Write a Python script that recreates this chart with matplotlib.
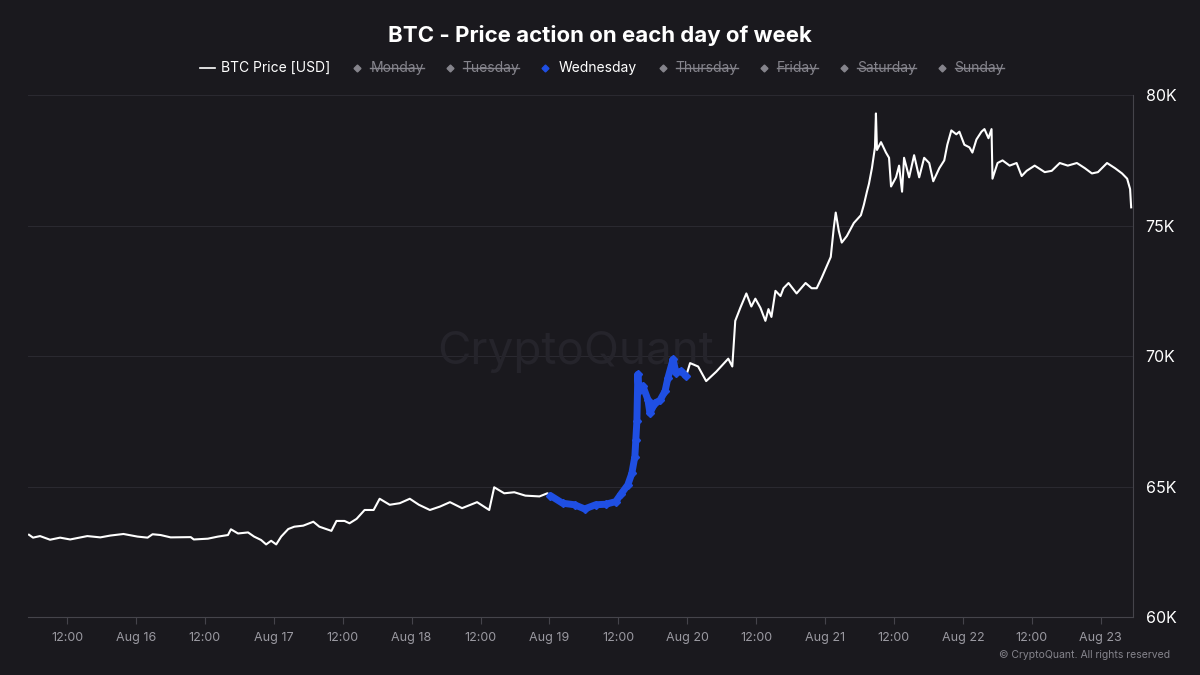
import matplotlib
import matplotlib.pyplot as plt
import matplotlib.dates as mdates
from matplotlib.lines import Line2D
import pandas as pd

plt.rcParams['font.family'] = ['Inter', 'DejaVu Sans']

# BTC price (USD)
times = [
    "2026-08-15 05:22", "2026-08-15 06:04", "2026-08-15 07:17", "2026-08-15 09:02", "2026-08-15 10:47",
    "2026-08-15 12:32", "2026-08-15 15:31", "2026-08-15 17:47", "2026-08-15 19:32", "2026-08-15 21:49",
    "2026-08-16 00:16", "2026-08-16 02:01", "2026-08-16 02:53", "2026-08-16 04:17", "2026-08-16 06:02",
    "2026-08-16 09:32", "2026-08-16 10:04", "2026-08-16 12:31", "2026-08-16 14:16", "2026-08-16 16:01",
    "2026-08-16 16:32", "2026-08-16 17:46", "2026-08-16 19:31", "2026-08-16 20:34", "2026-08-16 21:47",
    "2026-08-16 22:40", "2026-08-16 23:32", "2026-08-17 00:25", "2026-08-17 01:17", "2026-08-17 02:31",
    "2026-08-17 03:34", "2026-08-17 05:08", "2026-08-17 06:53", "2026-08-17 07:56", "2026-08-17 10:02",
    "2026-08-17 10:55", "2026-08-17 12:19", "2026-08-17 13:11", "2026-08-17 14:25", "2026-08-17 15:49",
    "2026-08-17 17:23", "2026-08-17 18:26", "2026-08-17 20:11", "2026-08-17 21:56", "2026-08-17 23:41",
    "2026-08-18 01:16", "2026-08-18 03:11", "2026-08-18 04:56", "2026-08-18 06:41", "2026-08-18 08:47",
    "2026-08-18 11:24", "2026-08-18 13:31", "2026-08-18 14:23", "2026-08-18 16:08", "2026-08-18 17:53",
    "2026-08-18 19:49", "2026-08-18 22:16", "2026-08-18 23:39",
    "2026-08-19 00:11", "2026-08-19 02:17", "2026-08-19 04:23", "2026-08-19 06:08", "2026-08-19 08:03",
    "2026-08-19 09:48", "2026-08-19 11:33", "2026-08-19 12:26", "2026-08-19 13:39", "2026-08-19 14:21",
    "2026-08-19 14:53", "2026-08-19 15:03", "2026-08-19 15:14", "2026-08-19 15:24", "2026-08-19 15:35",
    "2026-08-19 16:17", "2026-08-19 17:09", "2026-08-19 17:30", "2026-08-19 18:23", "2026-08-19 19:15",
    "2026-08-19 20:08", "2026-08-19 20:39", "2026-08-19 21:32", "2026-08-19 22:03", "2026-08-19 22:56",
    "2026-08-19 23:48",
    "2026-08-20 00:30", "2026-08-20 01:54", "2026-08-20 03:18", "2026-08-20 05:03", "2026-08-20 07:09",
    "2026-08-20 07:51", "2026-08-20 08:22", "2026-08-20 09:15", "2026-08-20 10:18", "2026-08-20 11:10",
    "2026-08-20 11:52", "2026-08-20 12:45", "2026-08-20 13:37", "2026-08-20 14:09", "2026-08-20 14:40",
    "2026-08-20 15:22", "2026-08-20 16:15", "2026-08-20 16:46", "2026-08-20 17:39", "2026-08-20 19:03",
    "2026-08-20 20:37", "2026-08-20 21:40", "2026-08-20 22:33", "2026-08-20 23:25",
    "2026-08-21 00:07", "2026-08-21 01:00", "2026-08-21 01:31", "2026-08-21 01:52", "2026-08-21 02:24",
    "2026-08-21 02:55", "2026-08-21 03:48", "2026-08-21 05:01", "2026-08-21 06:15", "2026-08-21 06:46",
    "2026-08-21 07:18", "2026-08-21 07:39", "2026-08-21 08:10", "2026-08-21 08:42", "2026-08-21 08:52",
    "2026-08-21 09:03", "2026-08-21 09:45", "2026-08-21 10:37", "2026-08-21 11:09", "2026-08-21 11:30",
    "2026-08-21 12:22", "2026-08-21 12:54", "2026-08-21 13:25", "2026-08-21 13:46", "2026-08-21 14:39",
    "2026-08-21 15:31", "2026-08-21 16:24", "2026-08-21 17:16", "2026-08-21 18:09", "2026-08-21 18:51",
    "2026-08-21 19:54", "2026-08-21 20:46", "2026-08-21 21:18", "2026-08-21 22:00", "2026-08-21 22:52",
    "2026-08-21 23:24",
    "2026-08-22 00:16", "2026-08-22 01:09", "2026-08-22 01:40", "2026-08-22 02:22", "2026-08-22 03:15",
    "2026-08-22 03:46", "2026-08-22 04:28", "2026-08-22 05:00", "2026-08-22 05:10", "2026-08-22 06:03",
    "2026-08-22 06:55", "2026-08-22 08:09", "2026-08-22 09:22", "2026-08-22 10:15", "2026-08-22 11:07",
    "2026-08-22 12:31", "2026-08-22 14:16", "2026-08-22 15:29", "2026-08-22 16:53", "2026-08-22 18:17",
    "2026-08-22 19:52", "2026-08-22 21:16", "2026-08-22 22:29", "2026-08-22 23:32",
    "2026-08-23 01:07", "2026-08-23 02:31", "2026-08-23 03:44", "2026-08-23 04:37", "2026-08-23 05:08",
    "2026-08-23 05:19",
]
prices = [
    63150, 63040, 63100, 62960, 63040,
    62970, 63100, 63050, 63120, 63180,
    63080, 63040, 63170, 63140, 63050,
    63060, 62970, 63000, 63080, 63140,
    63360, 63200, 63240, 63080, 62950,
    62780, 62920, 62780, 63080, 63370,
    63460, 63500, 63650, 63460, 63300,
    63680, 63680, 63590, 63760, 64100,
    64100, 64530, 64300, 64360, 64530,
    64300, 64100, 64230, 64400, 64170,
    64400, 64100, 64970, 64740, 64780,
    64650, 64620, 64740,
    64650, 64360, 64300, 64140, 64300,
    64320, 64420, 64700, 65060, 65500,
    66150, 66800, 67500, 69300, 68650,
    68850, 68330, 67820, 68200, 68300,
    68650, 69170, 69870, 69360, 69420,
    69230,
    69730, 69600, 69040, 69400, 69900,
    69600, 71350, 71850, 72400, 71900,
    72200, 71850, 71350, 71800, 71500,
    72500, 72300, 72600, 72800, 72400,
    72800, 72600, 72600, 73000,
    73350, 73800, 74900, 75500, 74800,
    74350, 74600, 75100, 75400, 75800,
    76300, 76600, 77200, 78000, 79300,
    77900, 78200, 77800, 77600, 76500,
    76850, 77300, 76300, 77600, 76850,
    77700, 76850, 77600, 77400, 76700,
    77200, 77500, 78100, 78650, 78500,
    78600,
    78100, 78000, 77800, 78300, 78600,
    78700, 78350, 78700, 76800, 77400,
    77500, 77300, 77400, 76900, 77100,
    77300, 77050, 77100, 77400, 77300,
    77400, 77200, 77000, 77050,
    77400, 77200, 77000, 76800, 76400,
    75700,
]

weekdays = ["Monday", "Tuesday", "Wednesday", "Thursday", "Friday", "Saturday", "Sunday"]
highlight = "Wednesday"
yticks = [60000, 65000, 70000, 75000, 80000]
ytick_labels = ["60K", "65K", "70K", "75K", "80K"]

bg = '#1a191e'
grid_c = '#2a2930'
axis_c = '#45444b'
gray = '#85848c'
blue = '#1f4fe3'

df = pd.DataFrame({'time': pd.to_datetime(times), 'price': prices})
df['day'] = df['time'].dt.day_name()
wed = df[df['day'] == highlight]

fig = plt.figure(figsize=(12, 6.75), dpi=100, facecolor=bg)
ax = fig.add_axes([0.0233, 0.086, 0.921, 0.773])
ax.set_facecolor(bg)

ax.plot(df['time'], df['price'], color='white', lw=1.5, zorder=3)
ax.plot(wed['time'], wed['price'], color=blue, lw=5, zorder=4, solid_capstyle='round',
        solid_joinstyle='round')
ax.plot(wed['time'], wed['price'], ls='none', marker='D', ms=4.5, color=blue, zorder=5)

ax.set_xlim(pd.Timestamp("2026-08-15 05:11"), pd.Timestamp("2026-08-23 05:40"))
ax.set_ylim(60000, 80000)

ax.yaxis.tick_right()
ax.set_yticks(yticks)
ax.set_yticklabels(ytick_labels)
ax.tick_params(axis='y', length=0, pad=9, labelsize=11.5, labelcolor='white')

def fmt_date(x, pos):
    d = mdates.num2date(x)
    if d.hour == 0:
        return f"{d:%b} {d.day}"
    return d.strftime('%H:%M')

ax.xaxis.set_major_locator(mdates.HourLocator(byhour=[0, 12]))
ax.xaxis.set_major_formatter(plt.FuncFormatter(fmt_date))
ax.tick_params(axis='x', length=5, width=0.8, color=axis_c, pad=6, labelsize=9, labelcolor='#9a99a1')

ax.grid(axis='y', color=grid_c, lw=0.8)
ax.set_axisbelow(True)
for s in ['top', 'left']:
    ax.spines[s].set_visible(False)
ax.spines['bottom'].set_color(axis_c)
ax.spines['right'].set_color(axis_c)

# watermark
ax.text(0.48, 0.478, 'CryptoQuant', transform=fig.transFigure, fontsize=33,
        color='#25242b', ha='center', va='center', zorder=1)

fig.text(0.5, 0.948, 'BTC - Price action on each day of week', ha='center', va='center',
         fontsize=16, fontweight='bold', color='white')
fig.text(0.975, 0.03, '\u00a9 CryptoQuant. All rights reserved', ha='right', va='center',
         fontsize=7.5, color=gray)

# legend row
fig.canvas.draw()
r = fig.canvas.get_renderer()
to_fig = fig.transFigure.inverted()
W, H = fig.bbox.width, fig.bbox.height
ly = 1 - 68 / 675
x = 200 / W
fig.add_artist(Line2D([x, x + 15 / W], [ly, ly], color='white', lw=1.2, transform=fig.transFigure))
t = fig.text(x + 21 / W, ly, 'BTC Price [USD]', color='white', fontsize=10, va='center')
x = to_fig.transform(t.get_window_extent(r))[1][0] + 27 / W
for d in weekdays:
    active = d == highlight
    fig.add_artist(Line2D([x], [ly], marker='D', ms=3.5, ls='none',
                          color=blue if active else gray, transform=fig.transFigure))
    t = fig.text(x + 13 / W, ly, d, color='white' if active else gray, fontsize=10, va='center')
    bb = to_fig.transform(t.get_window_extent(r))
    if not active:
        fig.add_artist(Line2D([bb[0][0], bb[1][0]], [ly, ly], color=gray, lw=1,
                              transform=fig.transFigure))
    x = bb[1][0] + 26 / W

fig.savefig('out.png', dpi=100, facecolor=bg)
